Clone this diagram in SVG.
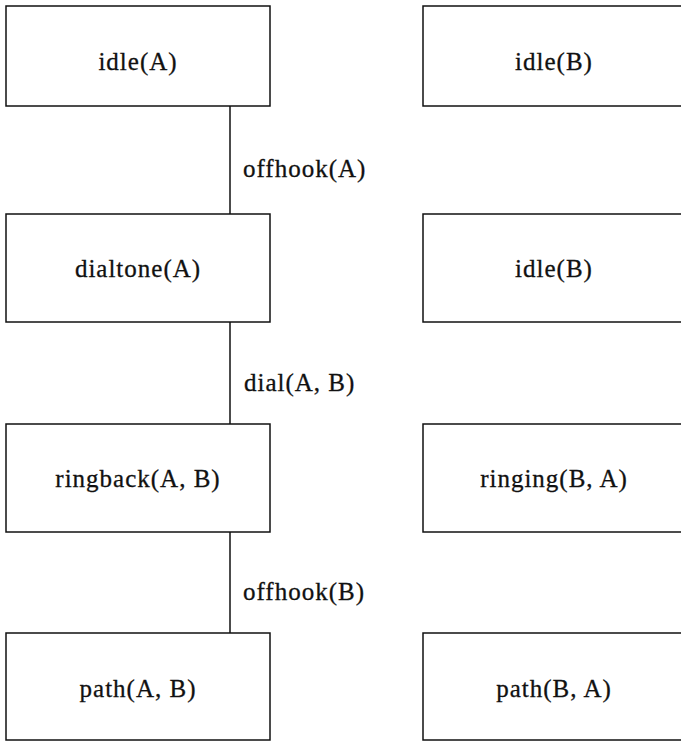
<svg xmlns="http://www.w3.org/2000/svg" width="681" height="742" viewBox="0 0 681 742">
<style>
.box{fill:#fff;stroke:#111;stroke-width:1.5}
.lbl{font-family:"Liberation Serif","Times New Roman",serif;font-size:25px;letter-spacing:1px;fill:#111;stroke:#111;stroke-width:0.3}
.c{text-anchor:middle}
.conn{stroke:#111;stroke-width:1.5;fill:none}
</style>
<rect width="681" height="742" fill="#fff"/>
<g id="connectors">
<line class="conn" x1="230" y1="106" x2="230" y2="214"/>
<line class="conn" x1="230" y1="322" x2="230" y2="424"/>
<line class="conn" x1="230" y1="532" x2="230" y2="633"/>
<text class="lbl" x="243" y="177">offhook(A)</text>
<text class="lbl" x="244" y="391">dial(A, B)</text>
<text class="lbl" x="243" y="600">offhook(B)</text>
</g>
<g id="idleA"><rect class="box" x="6" y="6" width="264" height="100"/><text class="lbl c" x="138" y="70">idle(A)</text></g>
<g id="dialtoneA"><rect class="box" x="6" y="214" width="264" height="108"/><text class="lbl c" x="138" y="277">dialtone(A)</text></g>
<g id="ringbackAB"><rect class="box" x="6" y="424" width="264" height="108"/><text class="lbl c" x="138" y="487">ringback(A, B)</text></g>
<g id="pathAB"><rect class="box" x="6" y="633" width="264" height="107"/><text class="lbl c" x="138" y="697">path(A, B)</text></g>
<g id="idleB1"><rect class="box" x="423" y="6" width="300" height="100"/><text class="lbl c" x="554" y="70">idle(B)</text></g>
<g id="idleB2"><rect class="box" x="423" y="214" width="300" height="108"/><text class="lbl c" x="554" y="277">idle(B)</text></g>
<g id="ringingBA"><rect class="box" x="423" y="424" width="300" height="108"/><text class="lbl c" x="554" y="487">ringing(B, A)</text></g>
<g id="pathBA"><rect class="box" x="423" y="633" width="300" height="107"/><text class="lbl c" x="554" y="697">path(B, A)</text></g>
</svg>
